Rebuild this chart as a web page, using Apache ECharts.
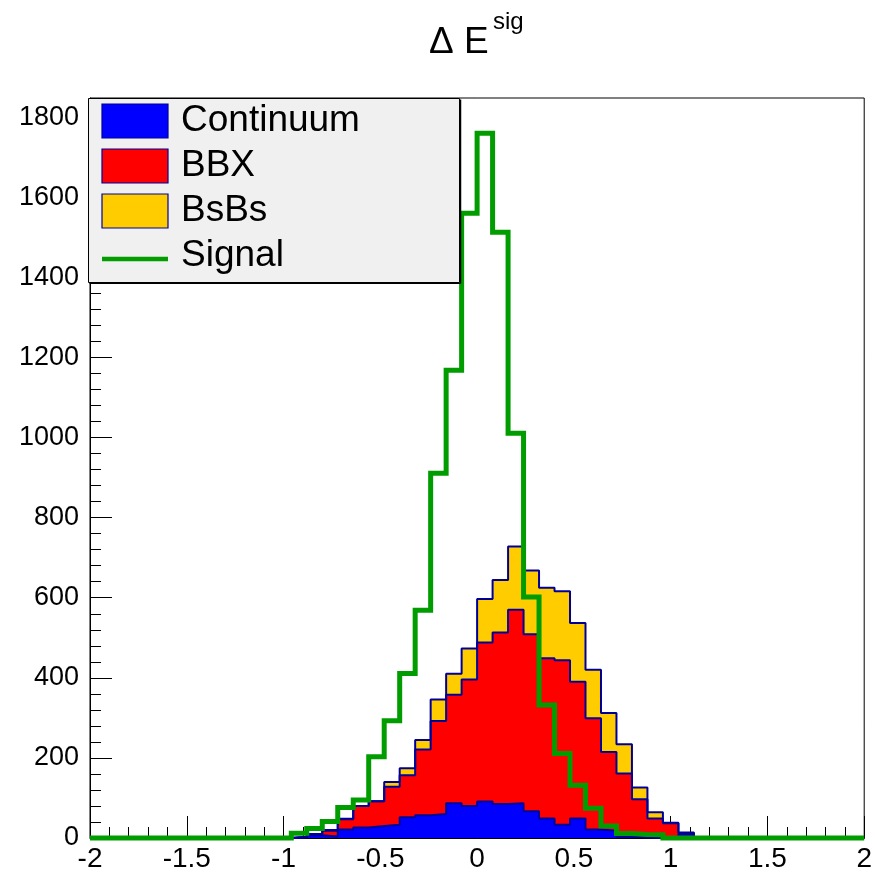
<!DOCTYPE html>
<html><head><meta charset="utf-8">
<script src="https://cdn.jsdelivr.net/npm/echarts@6/dist/echarts.min.js"></script>
<style>html,body{margin:0;padding:0;background:#fff}#c{width:875px;height:874px}</style>
</head><body><div id="c"></div>
<script>
// ---- histogram binning: 50 bins from -2 to 2 (width 0.08) ----
const xMin = -2, xMax = 2, nBins = 50;

// ---- per-bin contents (bin i covers [-2+0.08i, -2+0.08(i+1)]) ----
const continuum = [0,0,0,0,0,0,0,0,0,0,0,0,0,
  1,7,4,21,26,30,33,52,57,60,87,80,91,85,87,67,49,33,49,21,18,3,1,0,2,9,
  0,0,0,0,0,0,0,0,0,0,0];
const bbx = [0,0,0,0,0,0,0,0,0,0,0,0,0,
  2,3,14,26,54,62,95,105,164,232,271,316,397,428,483,442,400,411,341,278,197,158,96,49,35,3,
  0,0,0,0,0,0,0,0,0,0,0];
const bsbs = [0,0,0,0,0,0,0,0,0,0,0,0,0,
  0,0,2,1,0,0,12,17,24,54,52,77,109,131,158,159,176,172,147,121,97,73,29,15,1,2,
  0,0,0,0,0,0,0,0,0,0,0];
const signal = [0,0,0,0,0,0,0,0,0,0,0,0,0,
  12,24,41,76,95,203,293,411,569,911,1168,1560,1760,1513,1011,602,332,211,132,74,30,11,9,8,0,0,
  0,0,0,0,0,0,0,0,0,0,0];

const seriesNames = ['Continuum','BBX','BsBs','Signal'];
const xTickLabels = ['-2','-1.5','-1','-0.5','0','0.5','1','1.5','2'];
const yTickLabels = ['0','200','400','600','800','1000','1200','1400','1600','1800'];
const titleMain = 'Δ E';
const titleSup = 'sig';

// ---- build stacked (cumulative) histograms ----
const binWidth = (xMax - xMin) / nBins;
const cumCont = continuum.slice();
const cumBBX = continuum.map((v, i) => v + bbx[i]);
const cumAll = cumBBX.map((v, i) => v + bsbs[i]);

function stepPoints(vals) {
  const pts = [];
  for (let i = 0; i < nBins; i++) pts.push([+(xMin + i * binWidth).toFixed(4), vals[i]]);
  pts.push([xMax, vals[nBins - 1]]);
  return pts;
}

const FONT = "'Liberation Sans', Arial, Helvetica, sans-serif";
const OUTLINE = '#000099';
const GREEN = '#009c00';

function histSeries(name, vals, fill) {
  return {
    name, type: 'line', step: 'end', data: stepPoints(vals),
    symbol: 'none', showSymbol: false, clip: false, silent: true,
    lineStyle: { color: OUTLINE, width: 2 },
    areaStyle: { color: fill, opacity: 1 },
    animation: false
  };
}

const chart = echarts.init(document.getElementById('c'), null, { renderer: 'canvas' });

const L = { x: 88.5, y: 98.5, w: 371, h: 184 };
const rowY = [121, 166, 211, 256];
const swX = 102, swW = 66, swH = 34;
const fills = ['#0000ff', '#ff0000', '#ffcc00'];

const graphics = [
  { type: 'rect', z: 100, shape: { x: L.x, y: L.y, width: L.w, height: L.h },
    style: { fill: '#f0f0f0', stroke: '#000', lineWidth: 1 } },
  { type: 'line', z: 100, shape: { x1: L.x + L.w + 1, y1: L.y + 1, x2: L.x + L.w + 1, y2: L.y + L.h + 1 },
    style: { stroke: '#000', lineWidth: 1.5 } },
  { type: 'line', z: 100, shape: { x1: L.x + 1, y1: L.y + L.h + 1, x2: L.x + L.w + 1, y2: L.y + L.h + 1 },
    style: { stroke: '#000', lineWidth: 1 } }
];
for (let k = 0; k < 3; k++) {
  graphics.push({ type: 'rect', z: 101,
    shape: { x: swX, y: rowY[k] - swH / 2, width: swW, height: swH },
    style: { fill: fills[k], stroke: OUTLINE, lineWidth: 1.2 } });
}
graphics.push({ type: 'line', z: 101,
  shape: { x1: swX, y1: rowY[3] + 3, x2: swX + swW, y2: rowY[3] + 3 },
  style: { stroke: GREEN, lineWidth: 4.5 } });
for (let k = 0; k < 4; k++) {
  graphics.push({ type: 'text', z: 101, x: 181, y: rowY[k],
    style: { text: seriesNames[k], font: '37px ' + FONT, fill: '#000', verticalAlign: 'middle', align: 'left' } });
}
graphics.push({ type: 'text', z: 101, x: 429, y: 43,
  style: { text: titleMain, font: '37px ' + FONT, fill: '#000', verticalAlign: 'middle', align: 'left' } });
graphics.push({ type: 'text', z: 101, x: 493, y: 22,
  style: { text: titleSup, font: '24px ' + FONT, fill: '#000', verticalAlign: 'middle', align: 'left' } });

chart.setOption({
  animation: false,
  backgroundColor: '#fff',
  grid: { left: 90, top: 98, width: 778, height: 740, show: true, borderColor: '#000', borderWidth: 1, backgroundColor: 'transparent' },
  xAxis: {
    type: 'value', min: xMin, max: xMax, interval: 0.5,
    axisLine: { show: true, onZero: false, lineStyle: { color: '#000', width: 1 } },
    axisTick: { show: true, inside: true, length: 22, lineStyle: { color: '#000', width: 1 } },
    minorTick: { show: true, splitNumber: 5, length: 11, lineStyle: { color: '#000', width: 1 } },
    splitLine: { show: false }, minorSplitLine: { show: false },
    axisLabel: { color: '#000', fontSize: 28, fontFamily: FONT, margin: 7,
      formatter: v => xTickLabels[Math.round((v - xMin) / 0.5)] || '' }
  },
  yAxis: {
    type: 'value', min: 0, max: 1848, interval: 200,
    axisLine: { show: true, onZero: false, lineStyle: { color: '#000', width: 1 } },
    axisTick: { show: true, inside: true, length: 22, lineStyle: { color: '#000', width: 1 } },
    minorTick: { show: true, splitNumber: 5, length: 11, lineStyle: { color: '#000', width: 1 } },
    splitLine: { show: false }, minorSplitLine: { show: false },
    axisLabel: { color: '#000', fontSize: 27, fontFamily: FONT, margin: 11,
      showMaxLabel: false,
      formatter: v => (Math.abs(v % 200) < 1e-6 ? (yTickLabels[Math.round(v / 200)] || '') : '') }
  },
  series: [
    histSeries(seriesNames[2], cumAll, fills[2]),
    histSeries(seriesNames[1], cumBBX, fills[1]),
    histSeries(seriesNames[0], cumCont, fills[0]),
    { name: seriesNames[3], type: 'line', step: 'end', data: stepPoints(signal),
      symbol: 'none', showSymbol: false, clip: false, silent: true,
      lineStyle: { color: GREEN, width: 5, join: 'miter' }, animation: false }
  ],
  graphic: graphics
});
</script>
</body></html>
